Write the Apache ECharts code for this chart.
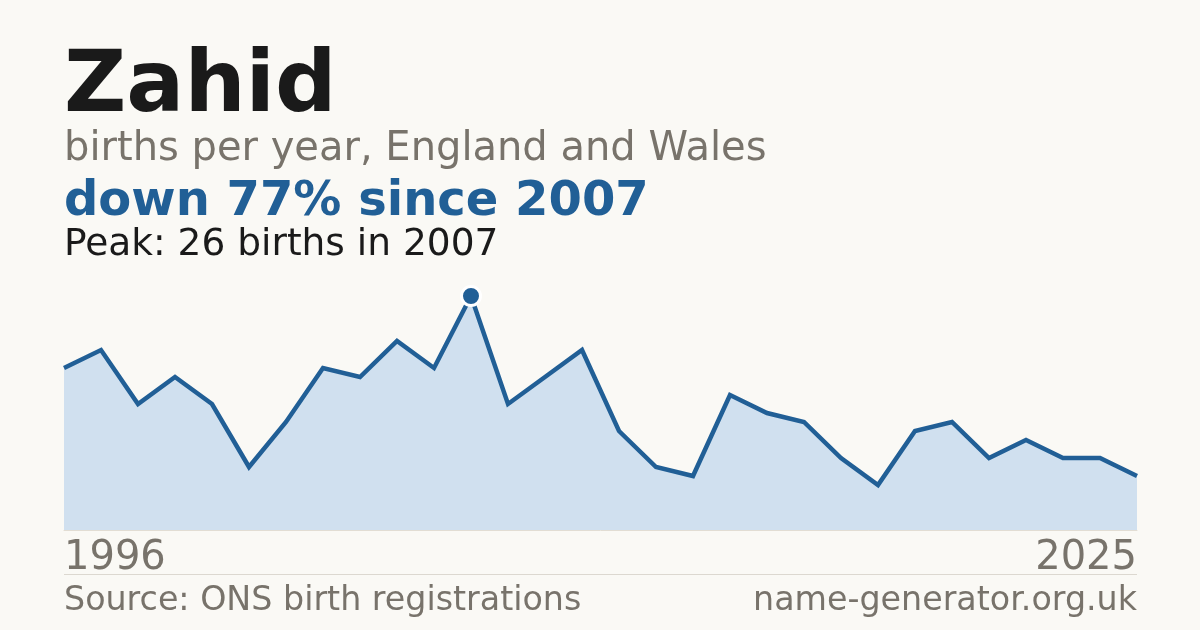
<!DOCTYPE html>
<html>
<head>
<meta charset="utf-8">
<script src="https://cdn.jsdelivr.net/npm/echarts@6/dist/echarts.min.js"></script>
<style>
html,body{margin:0;padding:0;background:#faf9f5;}
#c{width:1200px;height:630px;}
</style>
</head>
<body>
<div id="c"></div>
<script>
var years = ['1996','1997','1998','1999','2000','2001','2002','2003','2004','2005','2006','2007','2008','2009','2010','2011','2012','2013','2014','2015','2016','2017','2018','2019','2020','2021','2022','2023','2024','2025'];
var births = [18,20,14,17,14,7,12,18,17,21,18,26,14,17,20,11,7,6,15,13,12,8,5,11,12,8,10,8,8,6];
var peakYear = '2007';
var peakValue = 26;

var FONT = '"DejaVu Sans", sans-serif';
var GRAY = '#78736b';

var chart = echarts.init(document.getElementById('c'), null, {renderer:'canvas'});
chart.setOption({
  backgroundColor: '#faf9f5',
  animation: false,
  grid: {left: 64, right: 63, top: 296, bottom: 100},
  xAxis: {
    type: 'category',
    data: years,
    boundaryGap: false,
    axisLine: {show: true, lineStyle: {color: '#e2ddd3', width: 1}},
    axisTick: {show: false},
    splitLine: {show: false},
    axisLabel: {
      interval: function (i) { return i === 0 || i === years.length - 1; },
      margin: 9,
      fontFamily: FONT,
      fontSize: 40,
      color: GRAY,
      alignMinLabel: 'left',
      alignMaxLabel: 'right',
      verticalAlign: 'top',
      lineHeight: 40
    }
  },
  yAxis: {
    type: 'value',
    min: 0,
    max: peakValue,
    show: false,
    splitLine: {show: false}
  },
  series: [
    {
      type: 'line',
      data: births,
      symbol: 'none',
      lineStyle: {color: '#215f96', width: 4.5, join: 'miter'},
      areaStyle: {color: '#d0e0ef', opacity: 1},
      z: 2
    },
    {
      type: 'scatter',
      data: [[peakYear, peakValue]],
      symbol: 'circle',
      symbolSize: 19,
      itemStyle: {color: '#215f96', borderColor: '#ffffff', borderWidth: 3, opacity: 1},
      z: 5
    }
  ],
  graphic: [
    {type:'text', left: 64, top: 46, style:{text:'Zahid', font:'bold 86px ' + FONT, fill:'#1a1a1a'}},
    {type:'text', left: 64, top: 130, style:{text:'births per year, England and Wales', font:'40px ' + FONT, fill:GRAY}},
    {type:'text', left: 64, top: 179, style:{text:'down 77% since 2007', font:'bold 48px ' + FONT, fill:'#215f96'}},
    {type:'text', left: 64, top: 226, style:{text:'Peak: 26 births in 2007', font:'37.5px ' + FONT, fill:'#1a1a1a'}},
    {type:'rect', shape:{x:64, y:574, width:1073, height:1}, style:{fill:'#dcd8d0'}},
    {type:'text', left: 64, top: 585, style:{text:'Source: ONS birth registrations', font:'33.3px ' + FONT, fill:GRAY}},
    {type:'text', right: 63, top: 585, style:{text:'name-generator.org.uk', font:'33.3px ' + FONT, fill:GRAY}}
  ]
});
</script>
</body>
</html>
